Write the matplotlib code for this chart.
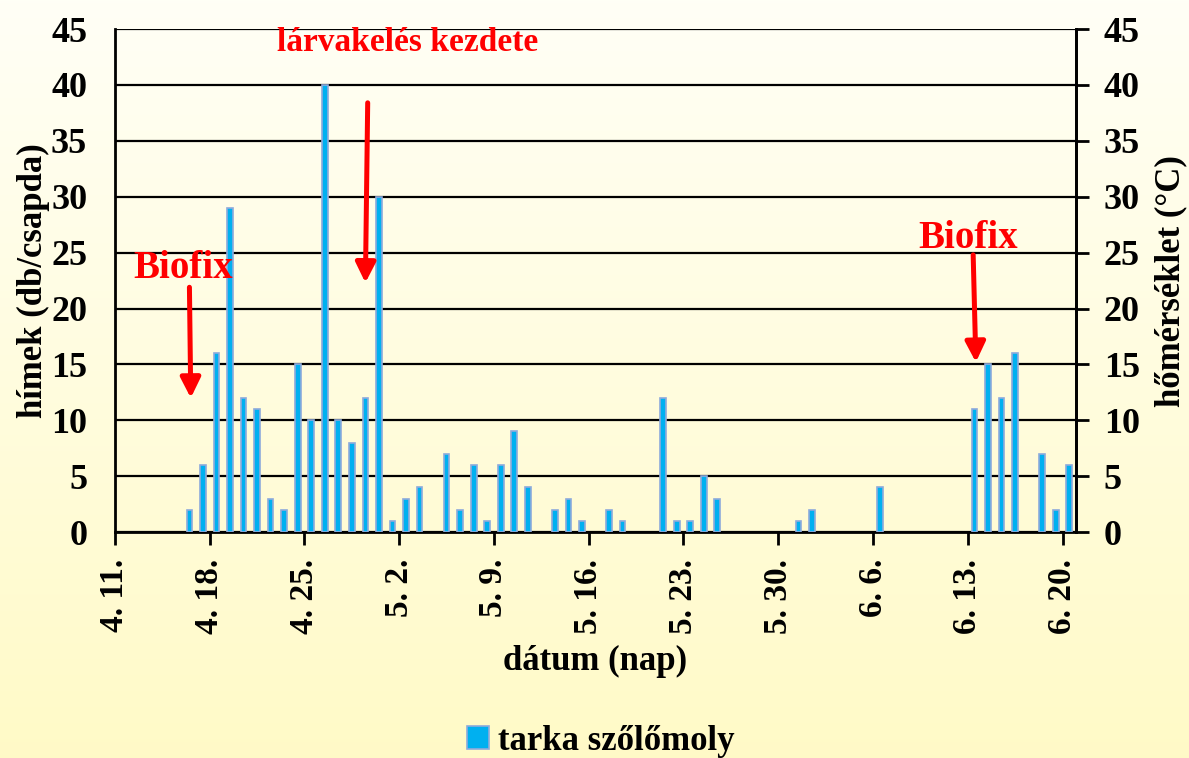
import datetime as dt
import numpy as np
import matplotlib
matplotlib.use("Agg")
import matplotlib.pyplot as plt
import matplotlib.dates as mdates

# catch dates (month, day) and males per trap
dates = [(4, 16), (4, 17), (4, 18), (4, 19), (4, 20), (4, 21), (4, 22), (4, 23),
         (4, 24), (4, 25), (4, 26), (4, 27), (4, 28), (4, 29), (4, 30), (5, 1),
         (5, 2), (5, 3), (5, 5), (5, 6), (5, 7), (5, 8), (5, 9), (5, 10),
         (5, 11), (5, 13), (5, 14), (5, 15), (5, 17), (5, 18), (5, 21), (5, 22),
         (5, 23), (5, 24), (5, 25), (5, 31), (6, 1), (6, 6), (6, 13), (6, 14),
         (6, 15), (6, 16), (6, 18), (6, 19), (6, 20)]
catches = [2, 6, 16, 29, 12, 11, 3, 2,
           15, 10, 40, 10, 8, 12, 30, 1,
           3, 4, 7, 2, 6, 1, 6, 9,
           4, 2, 3, 1, 2, 1, 12, 1,
           1, 5, 3, 1, 2, 4, 11, 15,
           12, 16, 7, 2, 6]
tick_dates = [(4, 11), (4, 18), (4, 25), (5, 2), (5, 9), (5, 16), (5, 23),
              (5, 30), (6, 6), (6, 13), (6, 20)]
y_ticks = list(range(0, 50, 5))

YEAR = 2010
def d(md):
    return dt.datetime(YEAR, md[0], md[1])

plt.rcParams['font.family'] = ['Liberation Serif', 'DejaVu Serif']
plt.rcParams['font.weight'] = 'bold'

fig = plt.figure(figsize=(11.89, 7.58), dpi=100)

# background gradient
bg = fig.add_axes([0, 0, 1, 1])
grad = np.linspace(0, 1, 256).reshape(-1, 1)
top = np.array([1.0, 1.0, 0.965])
bot = np.array([1.0, 0.98, 0.78])
img = top + (bot - top) * grad[:, :, None]
bg.imshow(img, aspect='auto', extent=[0, 1, 0, 1])
bg.axis('off')

ax = fig.add_axes([0.0967, 0.298, 0.8083, 0.6637])
ax.patch.set_alpha(0)

x = [mdates.date2num(d(m)) + 0.5 for m in dates]
ax.bar(x, catches, width=0.42, color='#00B0F0', edgecolor='#8EAADB',
       linewidth=1.2, label='tarka szőlőmoly', zorder=3)

x0 = mdates.date2num(d(tick_dates[0]))
ax.set_xlim(x0, mdates.date2num(d(tick_dates[-1])) + 1)
ax.set_ylim(0, 45)
ax.set_yticks(y_ticks)
ax.yaxis.grid(True, color='black', linewidth=1.6, zorder=1)
ax.set_axisbelow(True)
ax.set_xticks([mdates.date2num(d(m)) for m in tick_dates])
ax.set_xticklabels([f"{m}. {dd}." for m, dd in tick_dates], rotation=90,
                   fontsize=24, fontweight='bold')
ax.tick_params(axis='x', length=9, width=2, direction='out', pad=10)
ax.tick_params(axis='y', length=0, labelsize=26, pad=20)
for s in ['left', 'bottom', 'right']:
    ax.spines[s].set_linewidth(2)
ax.spines['top'].set_visible(False)

ax2 = ax.twinx()
ax2.set_ylim(0, 45)
ax2.set_yticks(y_ticks)
ax2.tick_params(axis='y', length=9, width=2, labelsize=26, pad=11)
for s in ['left', 'bottom', 'right', 'top']:
    ax2.spines[s].set_visible(False)
ax2.spines['right'].set_visible(True)
ax2.spines['right'].set_linewidth(2)
for lab in ax2.get_yticklabels() + ax.get_yticklabels():
    lab.set_fontweight('bold')

ax.set_ylabel('hímek (db/csapda)', fontsize=25, fontweight='bold', labelpad=1)
ax2.set_ylabel('hőmérséklet (°C)', fontsize=25, fontweight='bold', labelpad=10)
ax.set_xlabel('dátum (nap)', fontsize=25, fontweight='bold', labelpad=8)

# annotations
red = '#FF0000'
ax.text(x0 + 21.6, 43.8, 'lárvakelés kezdete', color=red, fontsize=24,
        fontweight='bold', ha='center', va='center')
ax.text(x0 + 5.0, 23.6, 'Biofix', color=red, fontsize=28,
        fontweight='bold', ha='center', va='center')
ax.text(x0 + 63.0, 26.3, 'Biofix', color=red, fontsize=28,
        fontweight='bold', ha='center', va='center')
arrows = [((18.67, 38.4), (18.5, 22.3)),
          ((5.5, 21.9), (5.6, 12.0)),
          ((63.4, 24.8), (63.6, 15.2))]
for (sx, sy), (ex, ey) in arrows:
    ax.annotate('', xy=(x0 + ex, ey), xytext=(x0 + sx, sy),
                arrowprops=dict(arrowstyle='-|>,head_length=1.2,head_width=0.6',
                                color=red, lw=3.6, shrinkA=0, shrinkB=0),
                zorder=5)

leg = fig.legend(loc='center', bbox_to_anchor=(0.505, 0.022), frameon=False,
                 prop={'size': 25, 'weight': 'bold'}, handlelength=0.65,
                 handleheight=0.65, handletextpad=0.25)

fig.savefig('out.png', dpi=100)
